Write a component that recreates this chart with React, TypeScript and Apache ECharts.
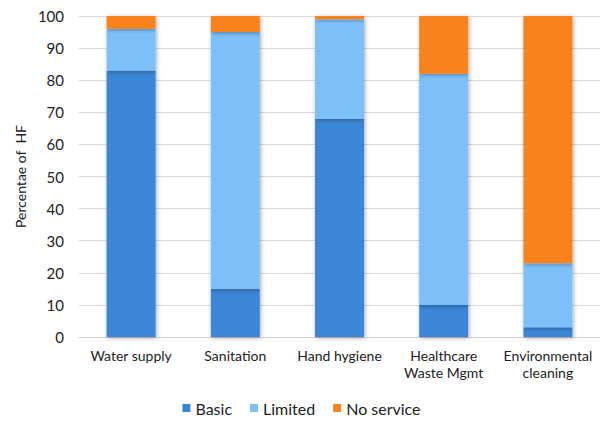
import React, { useEffect, useRef } from "react";
import * as echarts from "echarts";

const categories = ["Water supply", "Sanitation", "Hand hygiene", "Healthcare\nWaste Mgmt", "Environmental\ncleaning"];
const basic = [83, 15, 68, 10, 3];
const limited = [13, 80, 31, 72, 20];
const noService = [4, 5, 1, 18, 77];

const FONT = "Lato, 'Noto Sans', sans-serif";

export default function App() {
  const ref = useRef<HTMLDivElement>(null);
  useEffect(() => {
    if (!ref.current) return;
    const chart = echarts.init(ref.current, undefined, { renderer: "svg" });
    const shadow = { shadowBlur: 4, shadowColor: "rgba(0,0,0,0.35)", shadowOffsetX: 1, shadowOffsetY: 1 };
    const mk = (name: string, data: number[], color: string) => ({
      name,
      type: "bar",
      stack: "total",
      data,
      barWidth: "47%",
      itemStyle: { color, ...shadow },
    });
    chart.setOption({
      animation: false,
      textStyle: { fontFamily: FONT },
      grid: { left: 79, right: 3, top: 16, bottom: 84 },
      legend: {
        bottom: 0,
        left: "center",
        icon: "rect",
        itemWidth: 8,
        itemHeight: 8,
        itemGap: 18,
        textStyle: { fontSize: 16, color: "#222", fontFamily: FONT },
        data: ["Basic", "Limited", "No service"],
      },
      xAxis: {
        type: "category",
        data: categories,
        axisLine: { lineStyle: { color: "#d0d0d0", width: 1 } },
        axisTick: { show: false },
        axisLabel: { color: "#222", fontSize: 14, margin: 10, interval: 0, lineHeight: 17, fontFamily: FONT },
      },
      yAxis: {
        type: "value",
        min: 0,
        max: 100,
        interval: 10,
        name: "Percentae of  HF",
        nameLocation: "middle",
        nameGap: 50,
        nameTextStyle: { color: "#222", fontSize: 14, fontFamily: FONT },
        axisLine: { show: false },
        axisTick: { show: false },
        axisLabel: { color: "#222", fontSize: 15, margin: 15, fontFamily: FONT },
        splitLine: { lineStyle: { color: "#d9d9d9", width: 1 } },
      },
      series: [
        mk("Basic", basic, "#3a86d6"),
        mk("Limited", limited, "#7bbff9"),
        mk("No service", noService, "#f8821e"),
      ],
    });
    return () => chart.dispose();
  }, []);
  return <div ref={ref} style={{ width: 603, height: 421, position: "absolute", left: 0, top: 0 }} />;
}
